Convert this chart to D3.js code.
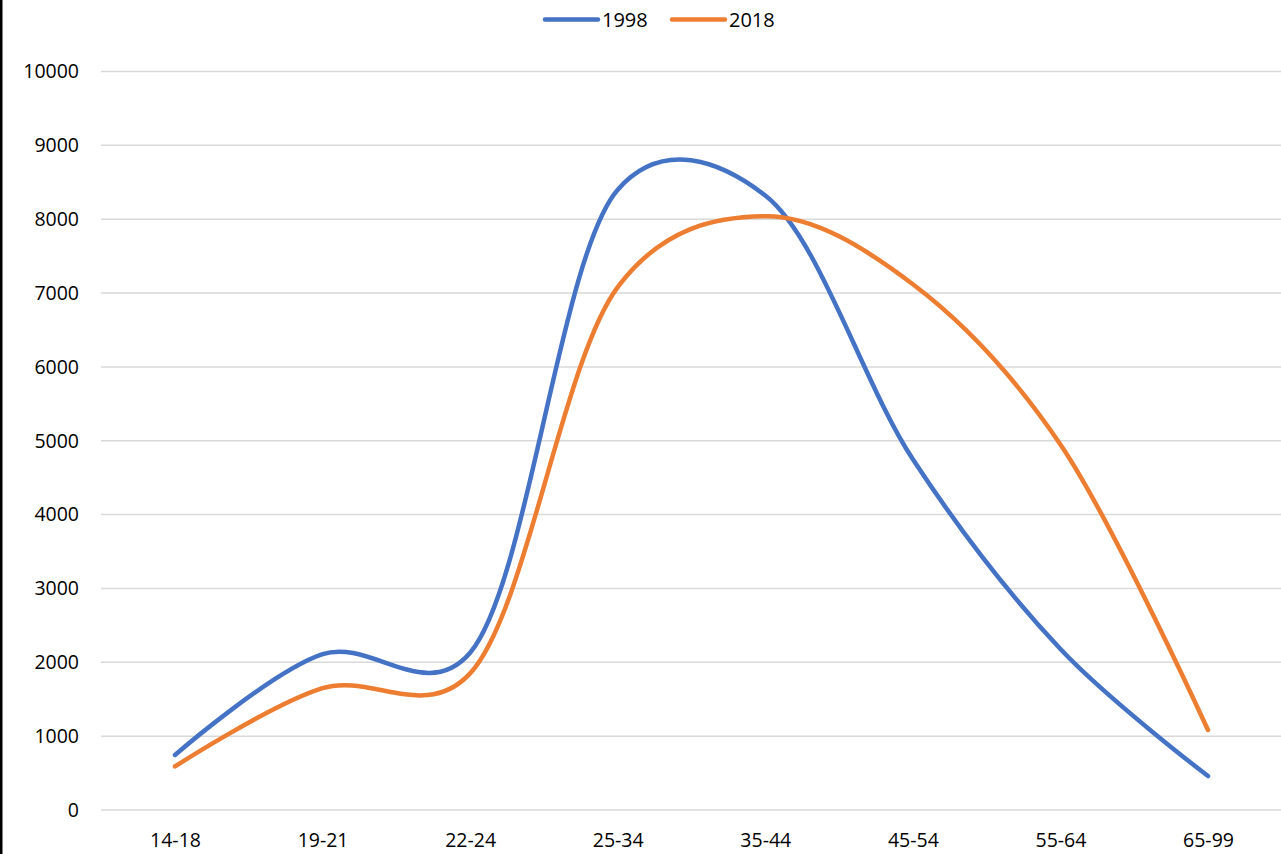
<!DOCTYPE html>
<html>
<head>
<meta charset="utf-8">
<script src="https://cdn.jsdelivr.net/npm/d3@7/dist/d3.min.js"></script>
<style>
  html, body { margin: 0; padding: 0; background: #fff; }
  svg { display: block; }
  text { font-family: "Open Sans", "Liberation Sans", sans-serif; fill: #000; }
</style>
</head>
<body>
<svg id="chart" width="1281" height="854"></svg>
<script>
const categories = ["14-18", "19-21", "22-24", "25-34", "35-44", "45-54", "55-64", "65-99"];
const series1998 = [745, 2110, 2130, 8400, 8320, 4750, 2180, 460];
const series2018 = [590, 1650, 1850, 7080, 8040, 7120, 4950, 1083];
const seriesNames = ["1998", "2018"];
const seriesColors = ["#4472C4", "#ED7D31"];
const yTicks = [0, 1000, 2000, 3000, 4000, 5000, 6000, 7000, 8000, 9000, 10000];

const svg = d3.select("#chart");
const W = 1281, H = 854;

const x = d3.scalePoint().domain(categories).range([175, 1208]);
const y = d3.scaleLinear().domain([0, 10000]).range([810, 71.5]);

// left border
svg.append("rect").attr("x", 0).attr("y", 0).attr("width", 2.5).attr("height", H).attr("fill", "#000");

// gridlines
svg.append("g").selectAll("line").data(yTicks).join("line")
  .attr("x1", 101).attr("x2", 1281)
  .attr("y1", d => y(d)).attr("y2", d => y(d))
  .attr("stroke", "#D9D9D9").attr("stroke-width", 1.5);

// y axis labels
const yAxis = d3.axisLeft(y).tickValues(yTicks).tickSize(0).tickPadding(0).tickFormat(d3.format("d"));
const gy = svg.append("g").attr("transform", "translate(79,0)").call(yAxis);
gy.select(".domain").remove();
gy.selectAll("text").attr("font-size", 19.5).attr("font-family", "'Open Sans', sans-serif").attr("fill", "#000");

// x axis labels
const xAxis = d3.axisBottom(x).tickSize(0).tickPadding(0);
const gx = svg.append("g").attr("transform", "translate(0,833)").call(xAxis);
gx.select(".domain").remove();
gx.selectAll("text").attr("font-size", 19.5).attr("font-family", "'Open Sans', sans-serif").attr("fill", "#000");

// lines
const data = [series1998, series2018];
const line = d3.line()
  .x((d, i) => x(categories[i]))
  .y(d => y(d))
  .curve(d3.curveCatmullRom.alpha(0.22));

svg.append("g").selectAll("path").data(data).join("path")
  .attr("d", d => line(d))
  .attr("fill", "none")
  .attr("stroke", (d, i) => seriesColors[i])
  .attr("stroke-width", 4.5)
  .attr("stroke-linecap", "round")
  .attr("stroke-linejoin", "round");

// legend
const legendX = [545, 672];
const lg = svg.append("g");
seriesNames.forEach((name, i) => {
  lg.append("line")
    .attr("x1", legendX[i]).attr("x2", legendX[i] + 53)
    .attr("y1", 19.5).attr("y2", 19.5)
    .attr("stroke", seriesColors[i]).attr("stroke-width", 4.5)
    .attr("stroke-linecap", "round");
  lg.append("text")
    .attr("x", legendX[i] + 57).attr("y", 19.5)
    .attr("dominant-baseline", "central")
    .attr("font-size", 20)
    .text(name);
});
</script>
</body>
</html>
